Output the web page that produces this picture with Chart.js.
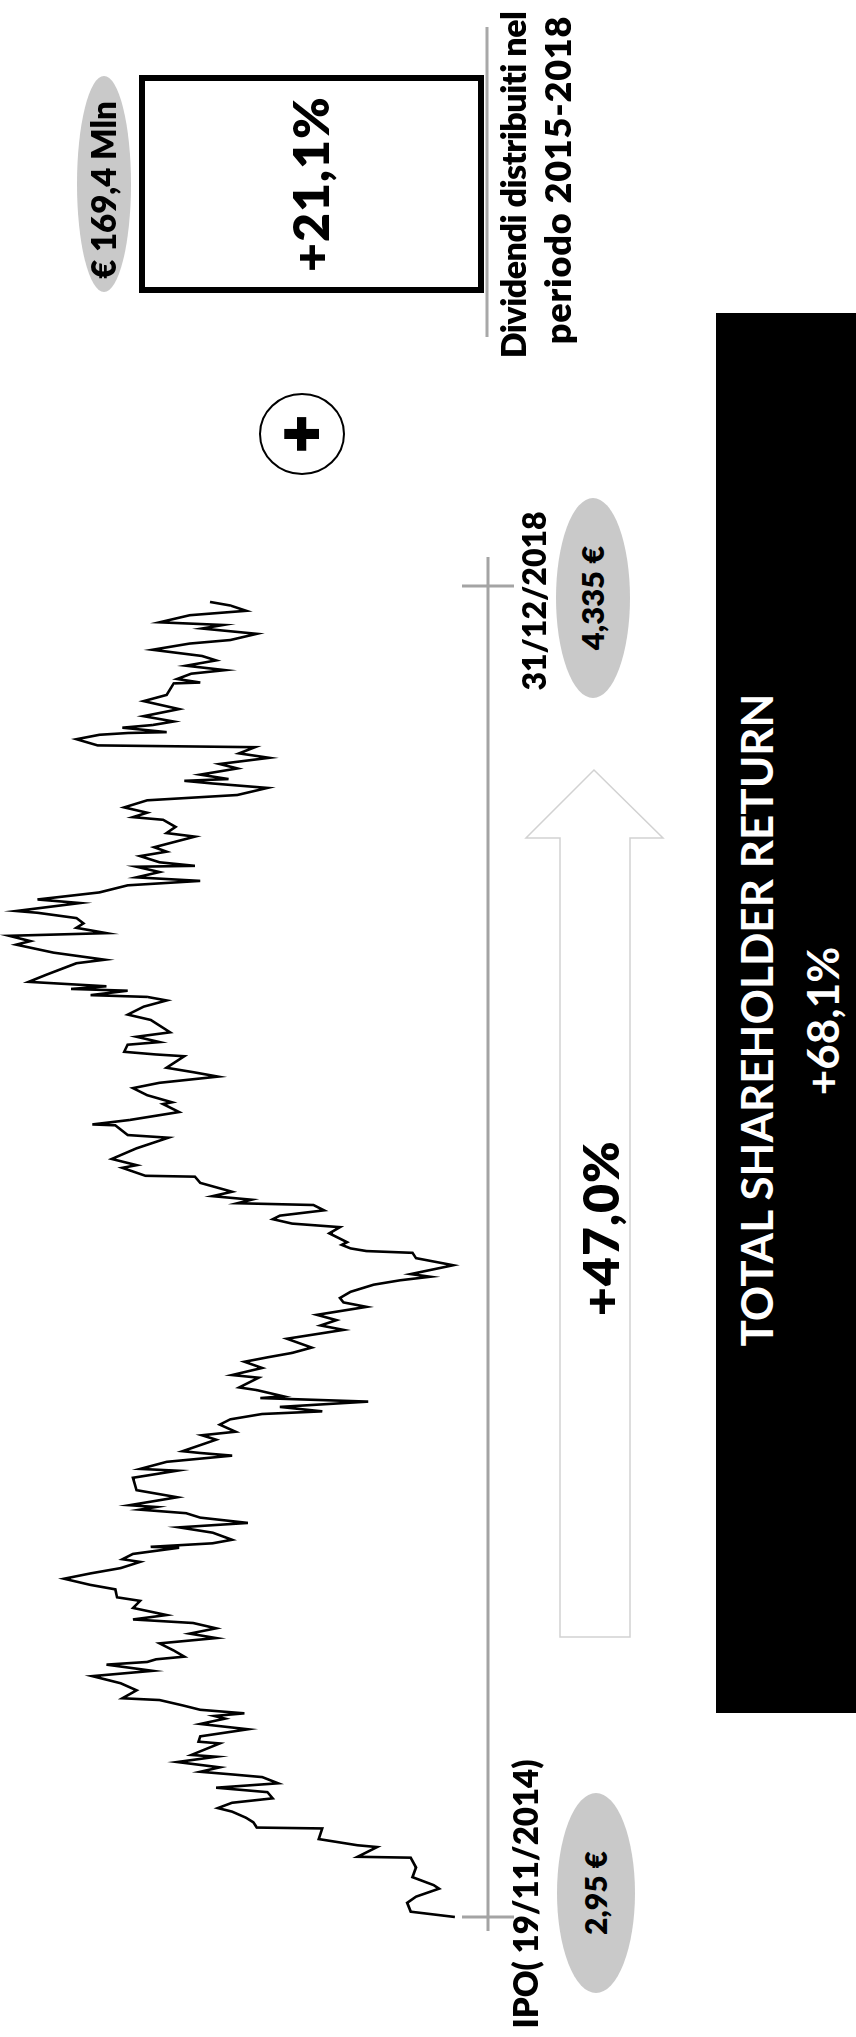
<!DOCTYPE html>
<html>
<head>
<meta charset="utf-8">
<script src="https://cdn.jsdelivr.net/npm/chart.js@4.4.1/dist/chart.umd.min.js"></script>
<style>
html, body { margin: 0; padding: 0; background: #fff; }
body { width: 856px; height: 2037px; overflow: hidden; position: relative; font-family: Lato, "Open Sans", sans-serif; }
/* the slide is built landscape and turned a quarter left */
#foglio { position: absolute; left: 0; top: 0; width: 2037px; height: 856px; transform-origin: 0 0; transform: translate(0, 2037px) rotate(-90deg); }
#grafico { position: absolute; left: 0; top: 0; }
#forme { position: absolute; left: 0; top: 0; }
.t { position: absolute; width: 700px; text-align: center; white-space: nowrap; font-weight: 800; color: #000; }
.bianco { color: #fff; font-weight: 700; }
</style>
</head>
<body>
<div id="foglio">
  <svg id="forme" width="2037" height="856">
    <ellipse cx="144" cy="596" rx="100" ry="39" fill="#c9c9c9"/>
    <ellipse cx="1439" cy="593" rx="100" ry="37" fill="#c9c9c9"/>
    <ellipse cx="1853" cy="104" rx="108" ry="27" fill="#c9c9c9"/>
    <polygon points="400,560 1199,560 1199,526 1267,594 1199,663 1199,630 400,630" fill="#fff" stroke="#d2d2d2" stroke-width="1.5"/>
    <ellipse cx="1603" cy="302" rx="40" ry="42" fill="none" stroke="#000" stroke-width="2"/>
    <line x1="1700" y1="487" x2="2010" y2="487" stroke="#a8a8a8" stroke-width="3"/>
    <rect x="1747" y="142" width="212" height="339" fill="none" stroke="#000" stroke-width="6"/>
    <rect x="324" y="716" width="1400" height="140" fill="#000"/>
  </svg>
  <canvas id="grafico" width="1600" height="560"></canvas>

  <div class="t" style="left:-207px; top:509px; font-size:33px; line-height:33px;">IPO( 19/11/2014)</div>
  <div class="t" style="left:-206px; top:580px; font-size:30px; line-height:30px;">2,95 €</div>
  <div class="t" style="left:1086px; top:518px; font-size:32px; line-height:32px;">31/12/2018</div>
  <div class="t" style="left:1089px; top:577px; font-size:31px; line-height:31px;">4,335 €</div>
  <div class="t" style="left:459px; top:575px; font-size:50px; line-height:50px; letter-spacing:1px;">+47,0%</div>
  <div class="t bianco" style="left:667px; top:734px; font-size:44px; line-height:44px;">TOTAL SHAREHOLDER RETURN</div>
  <div class="t bianco" style="left:666px; top:800px; font-size:44px; line-height:44px;">+68,1%</div>
  <div class="t" style="left:1253px; top:267px; font-size:64px; line-height:64px; -webkit-text-stroke:2px #000;">+</div>
  <div class="t" style="left:1503px; top:285px; font-size:50px; line-height:50px; letter-spacing:1px;">+21,1%</div>
  <div class="t" style="left:1497px; top:87px; font-size:33px; line-height:33px;">€ 169,4 Mln</div>
  <div class="t" style="left:1502px; top:496px; font-size:34px; line-height:34px; letter-spacing:-0.5px;">Dividendi distribuiti nel</div>
  <div class="t" style="left:1507px; top:539px; font-size:36px; line-height:36px; letter-spacing:0.8px;">periodo 2015-2018</div>
</div>

<script>
// Andamento del titolo dall'IPO al 31/12/2018 (giorni dall'IPO, prezzo in euro)
const giorni = [0, 6, 16, 23, 32, 36, 45, 56, 67, 68, 79, 81, 88, 100, 101, 107, 112, 119, 123, 129,
  134, 141, 146, 151, 158, 161, 164, 169, 175, 181, 183, 196, 198, 204, 212, 218, 224, 227, 230, 234,
  239, 245, 247, 256, 264, 272, 278, 285, 288, 291, 294, 301, 309, 315, 320, 326, 332, 336, 341, 349,
  357, 361, 370, 375, 382, 388, 394, 401, 404, 410, 417, 418, 422, 426, 434, 440, 445, 451, 456, 460,
  463, 465, 474, 482, 496, 504, 506, 514, 521, 524, 526, 539, 544, 548, 556, 562, 568, 571, 576, 582,
  586, 588, 595, 598, 609, 612, 620, 627, 632, 637, 643, 653, 663, 668, 674, 680, 689, 694, 699, 706,
  714, 719, 723, 726, 736, 744, 750, 752, 755, 759, 762, 772, 779, 783, 788, 792, 798, 804, 806, 810,
  814, 819, 829, 836, 837, 846, 849, 856, 868, 880, 883, 894, 895, 900, 909, 918, 920, 928, 936, 942,
  949, 954, 959, 972, 974, 977, 985, 988, 994, 999, 1013, 1019, 1028, 1035, 1039, 1041, 1046, 1048, 1051, 1056,
  1064, 1077, 1081, 1089, 1098, 1102, 1108, 1111, 1117, 1122, 1128, 1134, 1136, 1145, 1149, 1157, 1165, 1170, 1174, 1180,
  1186, 1187, 1191, 1198, 1203, 1208, 1220, 1224, 1231, 1239, 1242, 1247, 1253, 1261, 1267, 1275, 1280, 1283, 1285, 1290,
  1297, 1302, 1309, 1314, 1321, 1323, 1330, 1335, 1337, 1338, 1343, 1346, 1350, 1356, 1364, 1373, 1380, 1393, 1394, 1398,
  1404, 1408, 1413, 1419, 1424, 1431, 1438, 1442, 1449, 1455, 1459, 1462, 1470, 1475, 1481, 1485];

const prezzi = [2.95, 3.20, 3.22, 3.17, 3.04, 3.07, 3.19, 3.17, 3.20, 3.50, 3.39, 3.50, 3.72, 3.70, 4.07, 4.09, 4.13, 4.21, 4.29, 4.21,
  3.98, 4.01, 4.30, 3.95, 4.04, 4.21, 4.39, 4.28, 4.52, 4.30, 4.44, 4.28, 4.40, 4.39, 4.12, 4.39, 4.25, 4.31, 4.14, 4.39,
  4.49, 4.62, 4.83, 4.75, 4.84, 5.00, 4.66, 4.92, 4.69, 4.64, 4.48, 4.54, 4.62, 4.30, 4.45, 4.30, 4.43, 4.77, 4.58, 4.77,
  4.73, 4.86, 4.87, 5.01, 5.16, 5.01, 4.84, 4.73, 4.83, 4.77, 4.51, 4.67, 4.32, 4.21, 4.32, 4.51, 4.12, 4.39, 4.47, 4.73,
  4.64, 4.79, 4.52, 4.75, 4.77, 4.52, 4.73, 4.58, 4.21, 4.39, 4.49, 4.30, 4.38, 4.19, 4.28, 4.22, 4.04, 3.70, 3.94, 3.44,
  4.05, 3.92, 4.07, 4.17, 4.06, 4.21, 4.04, 4.14, 4.01, 3.87, 3.76, 3.90, 3.58, 3.71, 3.62, 3.73, 3.45, 3.58, 3.60, 3.54,
  3.41, 3.26, 3.09, 3.20, 2.96, 3.17, 3.19, 3.45, 3.54, 3.59, 3.56, 3.66, 3.60, 3.87, 3.98, 3.94, 3.69, 3.75, 4.18, 4.10,
  4.32, 4.21, 4.39, 4.42, 4.70, 4.83, 4.75, 4.89, 4.75, 4.57, 4.80, 4.87, 5.00, 4.79, 4.51, 4.60, 4.55, 4.69, 4.77, 4.62,
  4.29, 4.43, 4.58, 4.48, 4.64, 4.82, 4.80, 4.62, 4.75, 4.56, 4.67, 4.80, 4.71, 4.58, 4.69, 5.01, 4.80, 5.12, 4.92, 5.36,
  5.26, 5.09, 4.93, 5.22, 5.43, 5.35, 5.47, 4.92, 5.09, 5.05, 5.09, 5.31, 5.43, 5.07, 5.31, 4.96, 4.80, 4.39, 4.75, 4.62,
  4.75, 4.42, 4.62, 4.73, 4.58, 4.65, 4.42, 4.58, 4.53, 4.60, 4.77, 4.69, 4.82, 4.69, 4.18, 4.01, 4.32, 4.48, 4.23, 4.39,
  4.18, 4.28, 4.00, 4.17, 4.08, 4.97, 5.09, 4.96, 4.80, 4.58, 4.83, 4.66, 4.54, 4.71, 4.51, 4.71, 4.58, 4.54, 4.39, 4.52,
  4.44, 4.25, 4.47, 4.30, 4.38, 4.66, 4.45, 4.22, 4.07, 4.38, 4.26, 4.62, 4.45, 4.13, 4.22, 4.335];

const giornoIPO = 0;        // 19/11/2014
const giornoFine = 1503;    // 31/12/2018

let punti = [];
for (let i = 0; i < giorni.length; i++) {
    punti.push({x: giorni[i], y: prezzi[i]});
}

// gray time axis with the two end marks
const asseTempo = {
    id: 'asseTempo',
    afterDatasetsDraw(chart) {
        const ctx = chart.ctx;
        const sx = chart.scales.x;
        const base = chart.chartArea.bottom;
        ctx.save();
        ctx.strokeStyle = '#a4a4a4';
        ctx.lineWidth = 3;
        ctx.beginPath();
        ctx.moveTo(sx.left - 14, base);
        ctx.lineTo(sx.right + 29, base);
        [giornoIPO, giornoFine].forEach(function (g) {
            let px = sx.getPixelForValue(g);
            ctx.moveTo(px, base - 26);
            ctx.lineTo(px, base + 26);
        });
        ctx.stroke();
        ctx.restore();
    }
};

new Chart(document.getElementById('grafico'), {
    type: 'line',
    data: {
        datasets: [{
            data: punti,
            borderColor: '#000',
            borderWidth: 2.6,
            pointRadius: 0,
            tension: 0,
            fill: false,
            clip: false
        }]
    },
    options: {
        responsive: false,
        animation: false,
        devicePixelRatio: 1,
        layout: { padding: { left: 120, right: 149, top: 0, bottom: 72 } },
        plugins: { legend: { display: false }, tooltip: { enabled: false } },
        scales: {
            x: { type: 'linear', display: false, min: giornoIPO, max: giornoFine },
            y: { display: false, min: 2.763, max: 5.522 }
        }
    },
    plugins: [asseTempo]
});
</script>
</body>
</html>
